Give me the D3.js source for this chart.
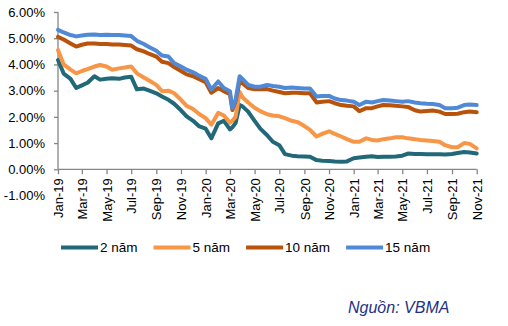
<!DOCTYPE html>
<html>
<head>
<meta charset="utf-8">
<script src="https://cdnjs.cloudflare.com/ajax/libs/d3/7.8.5/d3.min.js"></script>
<style>
  body { margin: 0; background: #fff; }
  svg { display: block; font-family: "Liberation Sans", Arial, sans-serif; }
  .tick text { fill: #000; font-size: 13px; }
</style>
</head>
<body>
<div id="chart"></div>
<script>
// Government bond yields by tenor (%), sampled twice a month
var dates = [
  "2019-01-01","2019-01-15","2019-02-01","2019-02-15","2019-03-01","2019-03-15","2019-04-01","2019-04-15",
  "2019-05-01","2019-05-15","2019-06-01","2019-06-15","2019-07-01","2019-07-15","2019-08-01","2019-08-15",
  "2019-09-01","2019-09-15","2019-10-01","2019-10-15","2019-11-01","2019-11-15","2019-12-01","2019-12-15",
  "2020-01-01","2020-01-15","2020-02-01","2020-02-15","2020-03-01","2020-03-07","2020-03-15","2020-03-25",
  "2020-04-01","2020-04-15","2020-05-01","2020-05-15","2020-06-01","2020-06-15","2020-07-01","2020-07-15",
  "2020-08-01","2020-08-15","2020-09-01","2020-09-15","2020-10-01","2020-10-15","2020-11-01","2020-11-15",
  "2020-12-01","2020-12-15","2021-01-01","2021-01-15","2021-02-01","2021-02-15","2021-03-01","2021-03-15",
  "2021-04-01","2021-04-15","2021-05-01","2021-05-15","2021-06-01","2021-06-15","2021-07-01","2021-07-15",
  "2021-08-01","2021-08-15","2021-09-01","2021-09-15","2021-10-01","2021-10-15","2021-11-01"
];

var y2 = [
  4.17,3.65,3.45,3.10,3.20,3.30,3.55,3.42, 3.45,3.47,3.45,3.50,3.53,3.05,3.08,3.00,
  2.90,2.78,2.65,2.50,2.25,2.02,1.85,1.65, 1.55,1.18,1.75,1.85,1.52,1.60,1.76,2.45,
  2.40,2.20,1.85,1.55,1.30,1.05,0.92,0.58, 0.52,0.50,0.49,0.48,0.35,0.33,0.32,0.30,
  0.29,0.30,0.42,0.45,0.48,0.50,0.47,0.48, 0.48,0.49,0.52,0.60,0.58,0.58,0.57,0.57,
  0.57,0.56,0.58,0.62,0.66,0.64,0.60
];

var y5 = [
  4.55,4.00,3.80,3.66,3.75,3.82,3.92,3.98, 3.92,3.80,3.85,3.88,3.92,3.66,3.50,3.38,
  3.22,2.98,3.00,2.90,2.65,2.42,2.30,2.12, 1.95,1.70,2.15,2.05,1.78,1.85,2.00,2.95,
  2.75,2.55,2.35,2.22,2.10,2.05,2.02,1.95, 1.85,1.80,1.65,1.50,1.25,1.35,1.45,1.35,
  1.25,1.15,1.05,1.05,1.18,1.12,1.10,1.15, 1.18,1.22,1.22,1.18,1.15,1.12,1.10,1.08,
  1.05,0.92,0.84,0.84,1.00,0.97,0.80
];

var y10 = [
  5.05,4.95,4.80,4.68,4.75,4.80,4.80,4.78, 4.78,4.76,4.76,4.74,4.72,4.58,4.50,4.40,
  4.30,4.10,4.05,3.90,3.75,3.62,3.55,3.45, 3.32,2.92,3.10,2.98,2.86,2.26,2.60,3.35,
  3.28,3.10,3.05,3.05,3.06,3.00,2.95,2.90, 2.92,2.92,2.90,2.90,2.55,2.58,2.60,2.52,
  2.45,2.42,2.40,2.22,2.33,2.33,2.40,2.45, 2.44,2.42,2.40,2.38,2.25,2.20,2.22,2.24,
  2.20,2.11,2.11,2.12,2.18,2.20,2.18
];

var y15 = [
  5.32,5.22,5.12,5.07,5.10,5.13,5.14,5.12, 5.13,5.12,5.12,5.10,5.08,4.90,4.78,4.66,
  4.52,4.34,4.30,4.05,3.92,3.80,3.70,3.58, 3.45,3.05,3.35,3.10,2.98,2.33,2.65,3.55,
  3.45,3.22,3.15,3.15,3.22,3.18,3.15,3.10, 3.12,3.10,3.08,3.08,2.78,2.80,2.80,2.70,
  2.64,2.62,2.58,2.45,2.58,2.55,2.60,2.64, 2.62,2.60,2.58,2.60,2.55,2.52,2.50,2.49,
  2.45,2.33,2.33,2.35,2.45,2.47,2.45
];

var seriesNames = ["2 năm", "5 năm", "10 năm", "15 năm"];
var seriesColors = ["#216878", "#F79646", "#B9530B", "#5089D6"];
var yTicks = [-1, 0, 1, 2, 3, 4, 5, 6];
var sourceText = "Nguồn: VBMA";

var svgWidth = 508;
var svgHeight = 326;

var parseDate = d3.timeParse("%Y-%m-%d");
var parsedDates = dates.map(parseDate);

var svg = d3.select("#chart")
  .append("svg")
  .attr("width", svgWidth)
  .attr("height", svgHeight);

var x = d3.scaleTime()
  .domain([parseDate("2019-01-01"), parseDate("2021-11-01")])
  .range([58, 476.7]);

var y = d3.scaleLinear()
  .domain([-1, 6])
  .range([195.5, 12]);

// y axis: labels for every tick, line and tick marks only from 0% upward
var yAxis = svg.append("g")
  .attr("transform", "translate(58,0)")
  .call(d3.axisLeft(y).tickValues(yTicks).tickSize(4).tickPadding(9)
    .tickFormat(d => d.toFixed(2) + "%"));
yAxis.select(".domain").remove();
yAxis.selectAll(".tick line")
  .attr("stroke", "#868686")
  .attr("stroke-width", 1.3)
  .attr("display", d => d < 0 ? "none" : null);

svg.append("line")
  .attr("x1", 58).attr("x2", 58)
  .attr("y1", y(6)).attr("y2", y(0))
  .attr("stroke", "#868686")
  .attr("stroke-width", 1.3);

// x axis sits on the 0% line, month labels rotated
var xAxis = svg.append("g")
  .attr("transform", `translate(0, ${y(0)})`)
  .call(d3.axisBottom(x)
    .ticks(d3.timeMonth.every(2))
    .tickSize(5)
    .tickFormat(d3.timeFormat("%b-%y")));
xAxis.select(".domain")
  .attr("stroke", "#868686")
  .attr("stroke-width", 1.3)
  .attr("d", `M58,0H${x.range()[1]}`);
xAxis.selectAll(".tick line")
  .attr("stroke", "#868686")
  .attr("stroke-width", 1.3);
xAxis.selectAll(".tick text")
  .attr("transform", "rotate(-90)")
  .attr("text-anchor", "end")
  .attr("x", -9)
  .attr("y", 0)
  .attr("dy", "0.36em");

var line = d3.line()
  .x((d, i) => x(parsedDates[i]))
  .y(d => y(d))
  .curve(d3.curveLinear);

var allSeries = [y2, y5, y10, y15];

svg.append("g")
  .selectAll("path")
  .data(allSeries)
  .enter()
  .append("path")
  .attr("d", line)
  .attr("fill", "none")
  .attr("stroke", (d, i) => seriesColors[i])
  .attr("stroke-width", 4)
  .attr("stroke-linejoin", "round")
  .attr("stroke-linecap", "round");

// legend
var legend = svg.append("g").attr("transform", "translate(0,247.5)");
var lx = 61;
seriesNames.forEach(function(name, i) {
  legend.append("line")
    .attr("x1", lx).attr("x2", lx + 37)
    .attr("y1", 0).attr("y2", 0)
    .attr("stroke", seriesColors[i])
    .attr("stroke-width", 4);
  var t = legend.append("text")
    .attr("x", lx + 39)
    .attr("y", 0)
    .attr("dy", "0.36em")
    .attr("font-size", 13.5)
    .attr("fill", "#000")
    .text(name);
  lx += 39 + t.node().getComputedTextLength() + 16;
});

svg.append("text")
  .attr("x", 348)
  .attr("y", 313)
  .attr("font-size", 16)
  .attr("font-style", "italic")
  .attr("fill", "#1F3282")
  .text(sourceText);
</script>
</body>
</html>
